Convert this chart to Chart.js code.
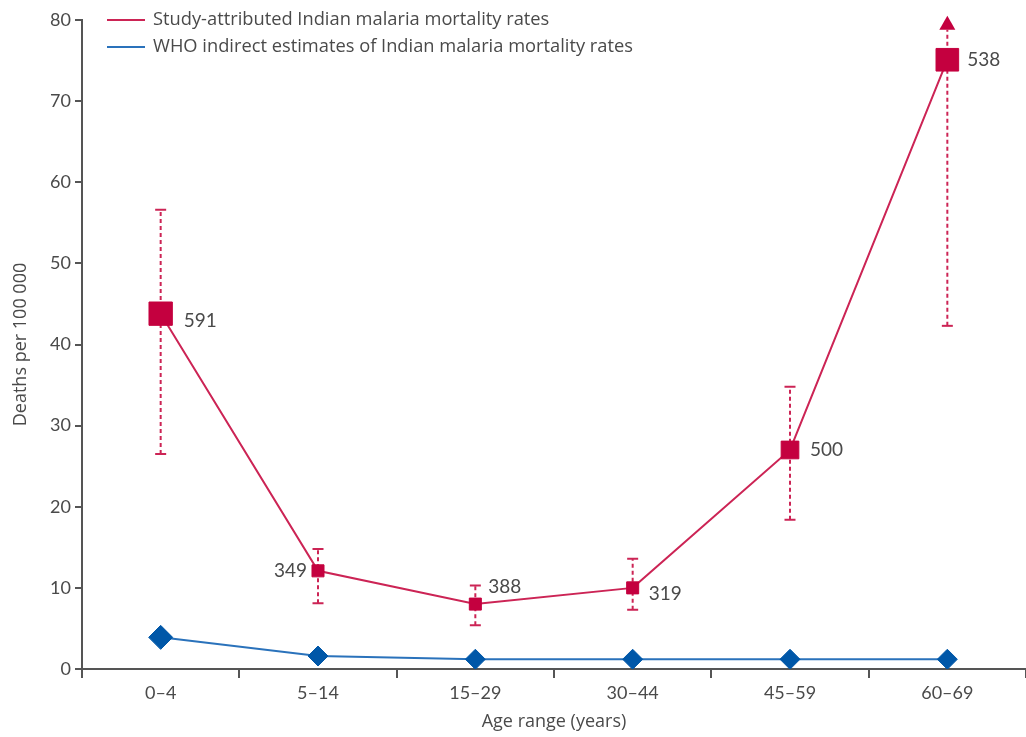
<!DOCTYPE html>
<html lang="en">
<head>
<meta charset="UTF-8">
<title>Malaria mortality by age</title>
<style>
  html, body { margin: 0; padding: 0; background: #fff; }
  canvas { display: block; }
</style>
<script src="https://cdn.jsdelivr.net/npm/chart.js"></script>
</head>
<body>
<canvas id="chart" width="1026" height="737"></canvas>
<script>
// data
const ageGroups   = ['0–4', '5–14', '15–29', '30–44', '45–59', '60–69'];
const studyRates  = [43.8, 12.1, 8.0, 10.0, 27.0, 75.1];
const studyLower  = [26.5, 8.1, 5.4, 7.3, 18.4, 42.3];
const studyUpper  = [56.6, 14.8, 10.3, 13.6, 34.8, 78.8];
const upperOpen   = [false, false, false, false, false, true];
const studyDeaths = [591, 349, 388, 319, 500, 538];
const whoRates    = [3.9, 1.6, 1.2, 1.2, 1.2, 1.2];
const yTicks      = [0, 10, 20, 30, 40, 50, 60, 70, 80];

const RED = '#c4003f';
const RED_LINE = '#cc2455';
const BLUE = '#0057a8';
const BLUE_LINE = '#2a72bb';
const TEXT = '#4a4a4a';
const AXIS = '#555';
const FONT = 'Lato, "Open Sans", sans-serif';
const FONT_WIDE = '"Open Sans", Lato, sans-serif';

// marker sizes and label placement (style only)
const squareRadius = [16.5, 8.5, 8.5, 8.5, 12.5, 16];
const diamondRadius = [12, 10, 10, 10, 10, 10];
const labelOffsets = [[23, 7, 'left'], [-11, 0, 'right'], [13, -17, 'left'], [16, 6, 'left'], [20, 0, 'left'], [20, 0, 'left']];

// dashed error bars, behind the markers
const errorBars = {
    id: 'errorBars',
    beforeDatasetsDraw(chart) {
        const ctx = chart.ctx;
        const x = chart.scales.x, y = chart.scales.y;
        ctx.save();
        ctx.strokeStyle = RED_LINE;
        ctx.fillStyle = RED;
        ctx.lineWidth = 2;
        studyRates.forEach((v, i) => {
            const px = x.getPixelForValue(i);
            const yLo = y.getPixelForValue(studyLower[i]);
            const yHi = y.getPixelForValue(studyUpper[i]);
            ctx.setLineDash([4, 3]);
            ctx.beginPath();
            ctx.moveTo(px, yLo);
            ctx.lineTo(px, yHi);
            ctx.stroke();
            ctx.setLineDash([]);
            ctx.beginPath();
            ctx.moveTo(px - 5.5, yLo);
            ctx.lineTo(px + 5.5, yLo);
            if (!upperOpen[i]) {
                ctx.moveTo(px - 5.5, yHi);
                ctx.lineTo(px + 5.5, yHi);
            }
            ctx.stroke();
            if (upperOpen[i]) {
                ctx.beginPath();
                ctx.moveTo(px - 8, yHi);
                ctx.lineTo(px + 8, yHi);
                ctx.lineTo(px, yHi - 14);
                ctx.closePath();
                ctx.fill();
            }
        });
        ctx.restore();
    }
};

// death counts next to markers, plus the legend
const annotations = {
    id: 'annotations',
    afterDraw(chart) {
        const ctx = chart.ctx;
        const x = chart.scales.x, y = chart.scales.y;
        ctx.save();
        ctx.fillStyle = TEXT;
        ctx.font = '19px ' + FONT;
        ctx.textBaseline = 'middle';
        studyDeaths.forEach((n, i) => {
            const o = labelOffsets[i];
            ctx.textAlign = o[2];
            ctx.fillText(String(n), x.getPixelForValue(i) + o[0], y.getPixelForValue(studyRates[i]) + o[1]);
        });

        const items = [
            ['Study-attributed Indian malaria mortality rates', RED_LINE],
            ['WHO indirect estimates of Indian malaria mortality rates', BLUE_LINE]
        ];
        ctx.font = '18.3px ' + FONT_WIDE;
        ctx.textAlign = 'left';
        items.forEach((it, k) => {
            const ly = 20 + k * 27;
            ctx.strokeStyle = it[1];
            ctx.lineWidth = 2;
            ctx.beginPath();
            ctx.moveTo(107, ly);
            ctx.lineTo(145, ly);
            ctx.stroke();
            ctx.fillStyle = TEXT;
            ctx.fillText(it[0], 153, ly);
        });
        ctx.restore();
    }
};

new Chart(document.getElementById('chart'), {
    type: 'line',
    data: {
        labels: ageGroups,
        datasets: [{
            label: 'Study-attributed Indian malaria mortality rates',
            data: studyRates,
            borderColor: RED_LINE,
            borderWidth: 2,
            pointStyle: 'rect',
            pointRadius: squareRadius,
            pointBackgroundColor: RED,
            pointBorderColor: RED,
            pointBorderWidth: 1,
            tension: 0
        }, {
            label: 'WHO indirect estimates of Indian malaria mortality rates',
            data: whoRates,
            borderColor: BLUE_LINE,
            borderWidth: 2,
            pointStyle: 'rectRot',
            pointRadius: diamondRadius,
            pointBackgroundColor: BLUE,
            pointBorderColor: BLUE,
            pointBorderWidth: 1,
            tension: 0
        }]
    },
    options: {
        responsive: false,
        animation: false,
        layout: { autoPadding: false, padding: { top: 20, right: -4, left: 0, bottom: 0 } },
        plugins: {
            legend: { display: false },
            tooltip: { enabled: false }
        },
        scales: {
            x: {
                offset: true,
                grid: { offset: true, drawOnChartArea: false, drawTicks: true, tickLength: 9, color: AXIS, lineWidth: 2 },
                border: { color: AXIS, width: 2 },
                ticks: { color: TEXT, font: { family: FONT, size: 18 }, padding: 4 },
                title: { display: true, text: 'Age range (years)', color: TEXT, font: { family: FONT_WIDE, size: 18 }, padding: { top: 2 } },
                afterFit(s) { s.height = 68; s.paddingLeft = 0; s.paddingRight = 0; }
            },
            y: {
                min: 0,
                max: 80,
                afterBuildTicks(s) { s.ticks = yTicks.map(v => ({ value: v })); },
                grid: { drawOnChartArea: false, drawTicks: true, tickLength: 7, color: AXIS, lineWidth: 2 },
                border: { color: AXIS, width: 2 },
                ticks: { color: TEXT, font: { family: FONT, size: 18 }, padding: 4 },
                title: { display: true, text: 'Deaths per 100 000', color: TEXT, font: { family: FONT_WIDE, size: 18 }, padding: { top: 10, bottom: 0 } },
                afterFit(s) { s.width = 82; }
            }
        }
    },
    plugins: [errorBars, annotations]
});
</script>
</body>
</html>
